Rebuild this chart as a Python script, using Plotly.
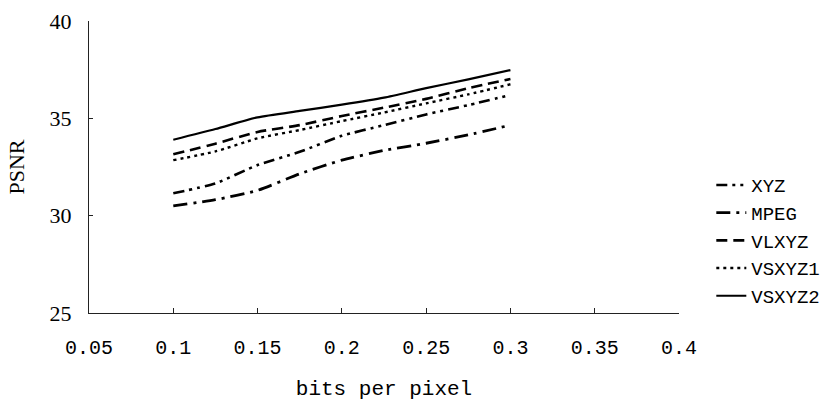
import plotly.graph_objects as go

# ---- data ----
bits_per_pixel = [0.1, 0.125, 0.15, 0.175, 0.2, 0.225, 0.25, 0.275, 0.3]
psnr_xyz = [31.15, 31.66, 32.6, 33.28, 34.1, 34.65, 35.2, 35.68, 36.2]
psnr_mpeg = [30.5, 30.82, 31.3, 32.15, 32.85, 33.35, 33.72, 34.15, 34.65]
psnr_vlxyz = [33.15, 33.7, 34.3, 34.65, 35.12, 35.55, 36.0, 36.55, 37.02]
psnr_vsxyz1 = [32.85, 33.3, 33.97, 34.4, 34.86, 35.3, 35.77, 36.23, 36.75]
psnr_vsxyz2 = [33.9, 34.45, 35.05, 35.38, 35.7, 36.06, 36.55, 37.0, 37.48]

series_names = ["XYZ", "MPEG", "VLXYZ", "VSXYZ1", "VSXYZ2"]
series_values = [psnr_xyz, psnr_mpeg, psnr_vlxyz, psnr_vsxyz1, psnr_vsxyz2]

x_tick_vals = [0.05, 0.1, 0.15, 0.2, 0.25, 0.3, 0.35, 0.4]
x_tick_text = ["0.05", "0.1", "0.15", "0.2", "0.25", "0.3", "0.35", "0.4"]
y_tick_vals = [25, 30, 35, 40]
y_tick_text = ["25", "30", "35", "40"]

# ---- styles ----
dash_styles = {
    "XYZ": "11px,5px,3px,5px,3px,5px",
    "MPEG": "14px,6px,3px,6px",
    "VLXYZ": "11px,6px",
    "VSXYZ1": "3px,4px",
    "VSXYZ2": "solid",
}
widths = {"XYZ": 2.6, "MPEG": 2.8, "VLXYZ": 2.6, "VSXYZ1": 2.4, "VSXYZ2": 2.2}

fig = go.Figure()
for name, vals in zip(series_names, series_values):
    fig.add_trace(go.Scatter(
        x=bits_per_pixel, y=vals, name=name, mode="lines",
        line=dict(color="black", width=widths[name], dash=dash_styles[name],
                  shape="spline", smoothing=0.6),
    ))

mono = "Liberation Mono"
serif = "Liberation Serif"

fig.update_layout(
    width=830, height=401,
    margin=dict(l=89, r=151, t=21, b=88),
    paper_bgcolor="white", plot_bgcolor="white",
    showlegend=True,
    legend=dict(
        xref="container", x=0.857, y=0.248, xanchor="left", yanchor="middle",
        font=dict(family=mono, size=19, color="black"),
        bgcolor="rgba(0,0,0,0)", borderwidth=0,
        tracegroupgap=0, itemwidth=30,
    ),
    xaxis=dict(
        range=[0.05, 0.4], tickvals=x_tick_vals, ticktext=x_tick_text,
        showgrid=False, zeroline=False,
        showline=True, linecolor="#222", linewidth=1,
        ticks="inside", ticklen=5, tickcolor="#222",
        tickfont=dict(family=mono, size=20, color="black"),
        ticklabelstandoff=16,
        title=dict(text="bits per pixel", font=dict(family=mono, size=21, color="black"),
                   standoff=30),
        automargin=False,
    ),
    yaxis=dict(
        range=[25, 40], tickvals=y_tick_vals, ticktext=y_tick_text,
        showgrid=False, zeroline=False,
        showline=True, linecolor="#222", linewidth=1,
        ticks="inside", ticklen=4, tickcolor="#222",
        tickfont=dict(family=serif, size=22, color="black"),
        ticklabelstandoff=12,
        title=dict(text="PSNR", font=dict(family=serif, size=22, color="black"),
                   standoff=18),
        automargin=False,
    ),
)

fig.write_html("out.html", config={"displayModeBar": False},
               post_script="document.body.style.margin='0';")
